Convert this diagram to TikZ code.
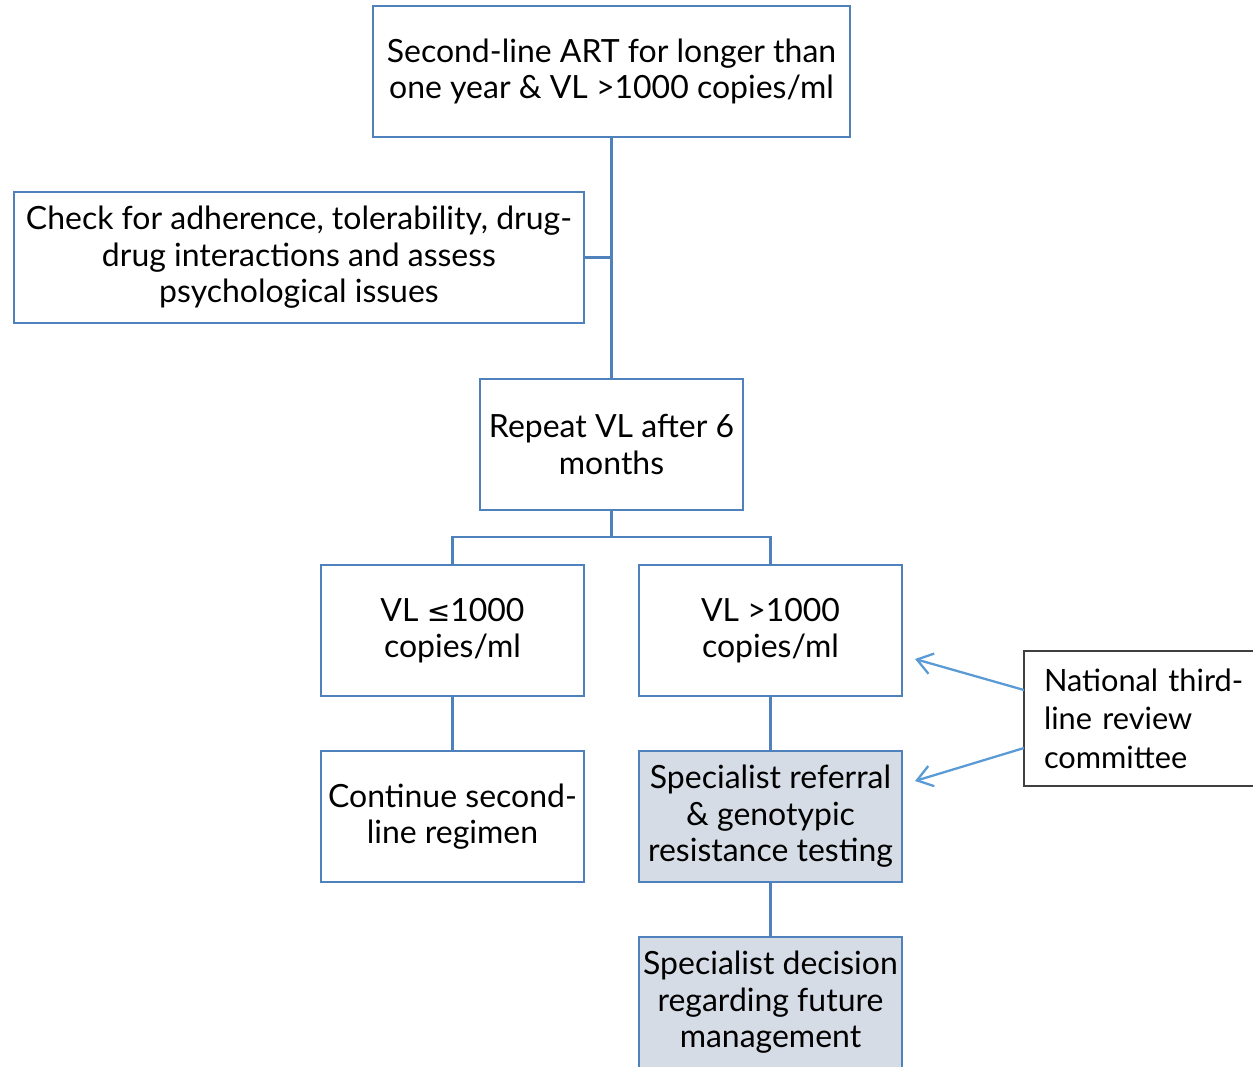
\documentclass[tikz,border=0pt]{standalone}
\usepackage{fontspec}
\setmainfont{Lato}
\usepackage{tikz}
\usetikzlibrary{arrows.meta,positioning}
\definecolor{boxblue}{RGB}{79, 129, 189}
\definecolor{arrowblue}{RGB}{91, 155, 213}
\definecolor{shade}{RGB}{214, 220, 229}
\definecolor{notegrey}{RGB}{64, 64, 64}
\tikzstyle{box} = [rectangle, draw=boxblue, line width=1.4pt, fill=white, text=black, align=center, font=\fontsize{18.2}{20.8}\selectfont, minimum width=5.26cm, minimum height=2.62cm, inner sep=0pt, outer sep=0pt]
\tikzstyle{shadedbox} = [box, fill=shade]
\tikzstyle{notebox} = [rectangle, draw=notegrey, line width=1pt, fill=white, text=black, align=left, font=\fontsize{17.5}{22}\selectfont, minimum height=2.7cm, text width=4.3cm, inner xsep=0.4cm, inner ysep=0pt, outer sep=0pt]
\tikzstyle{link} = [draw=boxblue, line width=1.4pt]
\tikzstyle{pointer} = [draw=arrowblue, line width=1.3pt, -{Straight Barb[length=0.3cm, width=0.42cm]}]

\begin{document}
\begin{tikzpicture}

\useasboundingbox (0,0) rectangle (25.06,-21.32);

% boxes =============================

% start
\node[box, minimum width=9.54cm] (top) at (12.23,-1.43) {Second-line ART for longer than\\one year \& VL >1000 copies/ml};
\node[box, minimum width=11.4cm] (check) at (5.98,-5.15) {Check for adherence, tolerability, drug-\\drug interactions and assess\\psychological issues};
\node[box, below=4.84cm of top] (repeat) {Repeat VL after 6\\months};

% outcomes
\coordinate[below=0.54cm of repeat] (split);
\node[box, below=1.1cm of repeat, xshift=-3.18cm] (low) {VL {\fontspec{DejaVu Sans}\fontsize{16}{20}\selectfont ≤}1000\\copies/ml};
\node[box, below=1.1cm of repeat, xshift=3.18cm] (high) {VL >1000\\copies/ml};
\node[box, below=1.1cm of low] (cont) {Continue second-\\line regimen};
\node[shadedbox, below=1.1cm of high] (referral) {Specialist referral\\\& genotypic\\resistance testing};
\node[shadedbox, below=1.1cm of referral] (decision) {Specialist decision\\regarding future\\management};

% committee
\node[notebox, anchor=west] (committee) at (20.48,-14.37) {National third-\\line review\\committee};

%edges
\path[link] (top) -- (repeat);
\path[link] (check.east) -- (check.east -| top.south);
\path[link] (repeat) -- (split);
\path[link] (split) -| (low);
\path[link] (split) -| (high);
\path[link] (low) -- (cont);
\path[link] (high) -- (referral);
\path[link] (referral) -- (decision);

\path[pointer] ([yshift=0.57cm]committee.west) -- ([xshift=0.26cm, yshift=-0.57cm]high.east);
\path[pointer] ([yshift=-0.59cm]committee.west) -- ([xshift=0.26cm, yshift=0.71cm]referral.east);

\end{tikzpicture}
\end{document}
